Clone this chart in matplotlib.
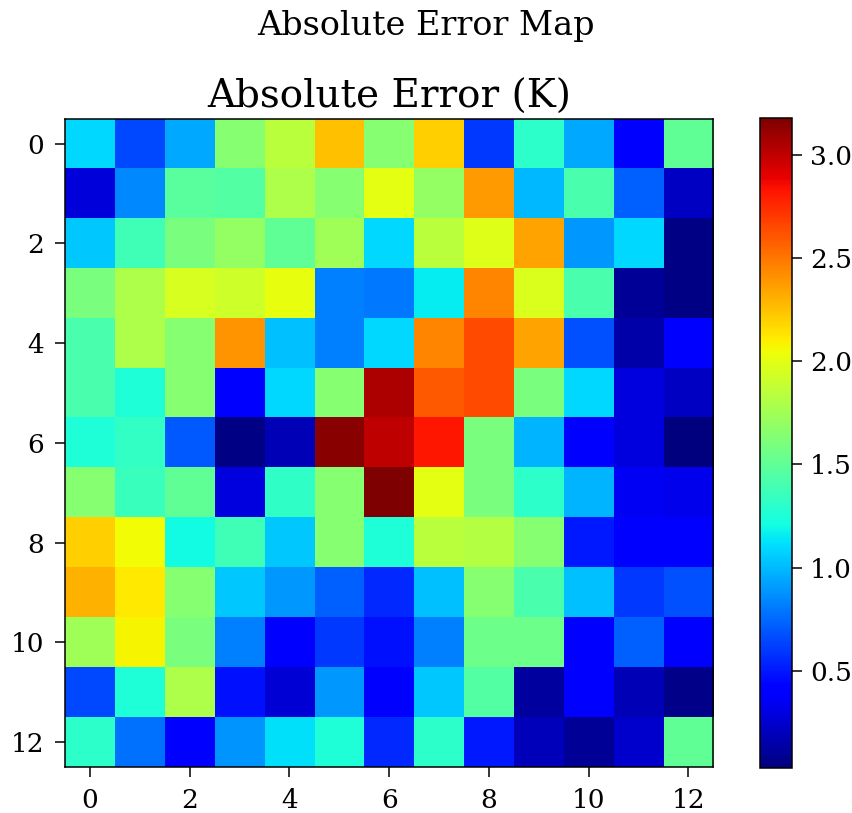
import numpy as np
import matplotlib
matplotlib.use("Agg")
import matplotlib.pyplot as plt

# absolute error per cell (K)
row_00 = [1.10, 0.65, 0.95, 1.65, 1.85, 2.25, 1.65, 2.20, 0.60, 1.30, 0.95, 0.40, 1.50]
row_01 = [0.28, 0.85, 1.48, 1.45, 1.80, 1.65, 2.00, 1.70, 2.38, 1.00, 1.42, 0.72, 0.22]
row_02 = [1.05, 1.38, 1.60, 1.70, 1.50, 1.75, 1.10, 1.85, 1.98, 2.35, 0.90, 1.10, 0.05]
row_03 = [1.60, 1.80, 1.95, 1.92, 2.02, 0.82, 0.80, 1.15, 2.45, 1.97, 1.42, 0.10, 0.05]
row_04 = [1.42, 1.80, 1.65, 2.40, 1.02, 0.82, 1.10, 2.45, 2.65, 2.35, 0.68, 0.15, 0.42]
row_05 = [1.42, 1.25, 1.65, 0.42, 1.10, 1.65, 3.05, 2.60, 2.65, 1.60, 1.10, 0.30, 0.22]
row_06 = [1.25, 1.33, 0.70, 0.05, 0.18, 3.15, 3.00, 2.82, 1.60, 0.98, 0.38, 0.30, 0.03]
row_07 = [1.65, 1.35, 1.50, 0.30, 1.32, 1.65, 3.18, 2.00, 1.60, 1.30, 0.98, 0.35, 0.33]
row_08 = [2.20, 2.05, 1.20, 1.38, 1.05, 1.65, 1.25, 1.85, 1.82, 1.65, 0.50, 0.40, 0.38]
row_09 = [2.30, 2.12, 1.65, 1.05, 0.90, 0.72, 0.55, 1.02, 1.65, 1.42, 1.02, 0.60, 0.68]
row_10 = [1.75, 2.08, 1.60, 0.82, 0.42, 0.60, 0.48, 0.82, 1.55, 1.55, 0.42, 0.72, 0.42]
row_11 = [0.65, 1.25, 1.80, 0.48, 0.27, 0.90, 0.42, 1.05, 1.45, 0.12, 0.38, 0.18, 0.06]
row_12 = [1.30, 0.78, 0.42, 0.88, 1.12, 1.25, 0.55, 1.30, 0.50, 0.20, 0.10, 0.25, 1.50]

err = np.array([row_00, row_01, row_02, row_03, row_04, row_05, row_06,
                row_07, row_08, row_09, row_10, row_11, row_12])

plt.rcParams["font.family"] = "DejaVu Serif"
plt.rcParams["axes.linewidth"] = 1.1

fig = plt.figure(figsize=(8.52, 8.13), dpi=100)
ax = fig.add_axes([0.0763, 0.0554, 0.761, 0.80])
cax = fig.add_axes([0.892, 0.0554, 0.0376, 0.80])

im = ax.imshow(err, cmap="jet", interpolation="nearest")
ax.set_title("Absolute Error (K)", fontsize=28, pad=8)
ax.tick_params(labelsize=19, length=7, width=1.1, pad=8)

cb = fig.colorbar(im, cax=cax)
cb.ax.tick_params(labelsize=19, length=7, width=1.1, pad=6)
cb.outline.set_linewidth(1.1)

fig.suptitle("Absolute Error Map", fontsize=24, y=0.988, va="top")

fig.savefig("out.png", dpi=100)
